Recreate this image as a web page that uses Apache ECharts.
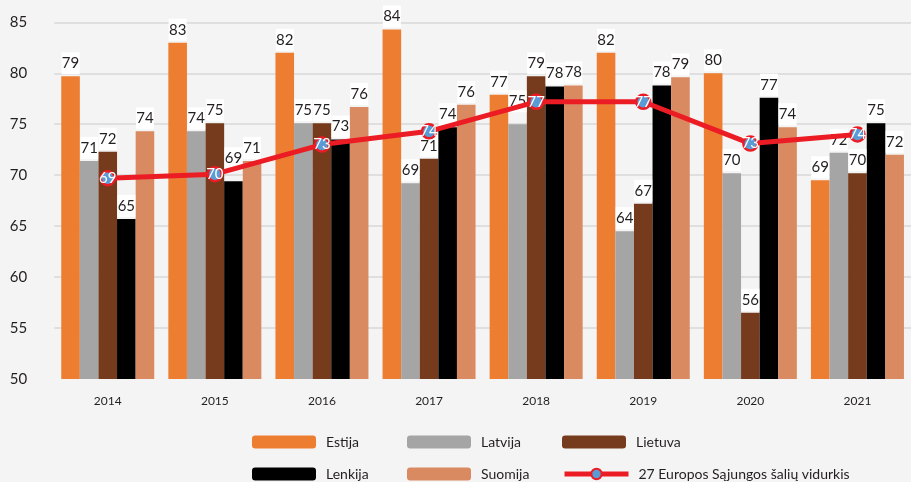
<!DOCTYPE html>
<html lang="lt">
<head>
    <meta charset="UTF-8">
    <title>Vidurkis</title>
    <script src="https://cdn.jsdelivr.net/npm/echarts@6/dist/echarts.min.js"></script>
    <style>
        body { margin: 0; background: #f4f4f4; }
        #main { width: 911px; height: 482px; }
    </style>
</head>
<body>
    <div id="main"></div>
    <script>
        // metai
        var years = ['2014', '2015', '2016', '2017', '2018', '2019', '2020', '2021'];
        var yTicks = [50, 55, 60, 65, 70, 75, 80, 85];

        // reikšmės nuskaitytos nuo stulpelių aukščio
        var estija  = [79.7, 83.0, 82.0, 84.3, 77.9, 82.0, 80.0, 69.5];
        var latvija = [71.4, 74.3, 75.1, 69.2, 75.0, 64.5, 70.2, 72.2];
        var lietuva = [72.3, 75.1, 75.1, 71.6, 79.7, 67.2, 56.5, 70.2];
        var lenkija = [65.7, 69.4, 73.5, 74.7, 78.7, 78.8, 77.6, 75.1];
        var suomija = [74.3, 71.4, 76.7, 76.9, 78.8, 79.6, 74.7, 72.0];
        var es27    = [69.7, 70.1, 73.0, 74.3, 77.2, 77.2, 73.1, 74.0];

        var names = ['Estija', 'Latvija', 'Lietuva', 'Lenkija', 'Suomija',
                     '27 Europos Sąjungos šalių vidurkis'];
        var colors = ['#ed7d31', '#a5a5a5', '#763a1c', '#000000', '#da8a61'];
        var red = '#ec1c24';
        var blue = '#5b9bd5';

        var fontFam = 'Lato';
        var textCol = '#231f20';

        function barSeries(name, data, color, liftIdx)
        {
            // kai kurios etiketės pakeltos, kad nelįstų po linija
            var items = data.map(function (v, i) {
                if (liftIdx !== undefined && i === liftIdx)
                    return { value: v, label: { offset: [0, -10] } };
                return v;
            });
            return {
                name: name,
                type: 'bar',
                data: items,
                barWidth: 18.6,
                barGap: '0%',
                itemStyle: { color: color },
                label: {
                    show: true,
                    position: 'top',
                    distance: 2,
                    fontFamily: fontFam,
                    fontSize: 15,
                    color: textCol,
                    backgroundColor: '#ffffff',
                    width: 18,
                    align: 'center',
                    lineHeight: 18,
                    padding: [2, 0, 2, 0],
                    formatter: function (p) { return Math.floor(p.value + 1e-9); }
                }
            };
        }

        // legenda: 3 stulpeliai x 2 eilutės
        var legCols = [252, 407, 562];
        var legRows = [434, 466];
        var legOrder = [[0, 0], [1, 0], [2, 0], [0, 1], [1, 1], [2, 1]];
        var legends = names.map(function (n, i) {
            return {
                data: [n],
                left: legCols[legOrder[i][0]],
                top: legRows[legOrder[i][1]],
                padding: 0,
                itemWidth: 64,
                itemHeight: 13,
                selectedMode: false,
                lineStyle: { width: 5, color: red },
                textStyle: {
                    fontFamily: fontFam,
                    fontSize: 14,
                    color: textCol,
                    lineHeight: 16,
                    padding: [0, 0, 0, 5]
                }
            };
        });

        var myChart = echarts.init(document.getElementById('main'));

        var series = [
            barSeries(names[0], estija, colors[0]),
            barSeries(names[1], latvija, colors[1], 4),
            barSeries(names[2], lietuva, colors[2]),
            barSeries(names[3], lenkija, colors[3], 1),
            barSeries(names[4], suomija, colors[4]),
            {
                name: names[5],
                type: 'line',
                data: es27,
                symbol: 'circle',
                symbolSize: 14,
                lineStyle: { color: red, width: 5 },
                itemStyle: { color: blue, borderColor: red, borderWidth: 2.5 },
                label: {
                    show: true,
                    position: 'inside',
                    fontFamily: fontFam,
                    fontSize: 15,
                    color: '#ffffff',
                    formatter: function (p) { return Math.floor(p.value + 1e-9); }
                }
            }
        ];

        var option = {
            backgroundColor: '#f4f4f4',
            animation: false,
            grid: {
                left: 54.2,
                right: -11.5,
                top: 22.3,
                bottom: 103,
                containLabel: false
            },
            legend: legends,
            xAxis: {
                type: 'category',
                data: years,
                axisLine: { show: false },
                axisTick: { show: false },
                axisLabel: {
                    margin: 16,
                    fontFamily: fontFam,
                    fontSize: 12,
                    color: textCol
                }
            },
            yAxis: {
                type: 'value',
                min: yTicks[0],
                max: yTicks[yTicks.length - 1],
                interval: 5,
                axisLine: { show: false },
                axisTick: { show: false },
                axisLabel: {
                    margin: 27,
                    fontFamily: fontFam,
                    fontSize: 15,
                    color: textCol
                },
                splitLine: {
                    showMinLine: false,
                    lineStyle: { color: '#d9d9d9', width: 1.5 }
                }
            },
            series: series
        };

        myChart.setOption(option);
    </script>
</body>
</html>
